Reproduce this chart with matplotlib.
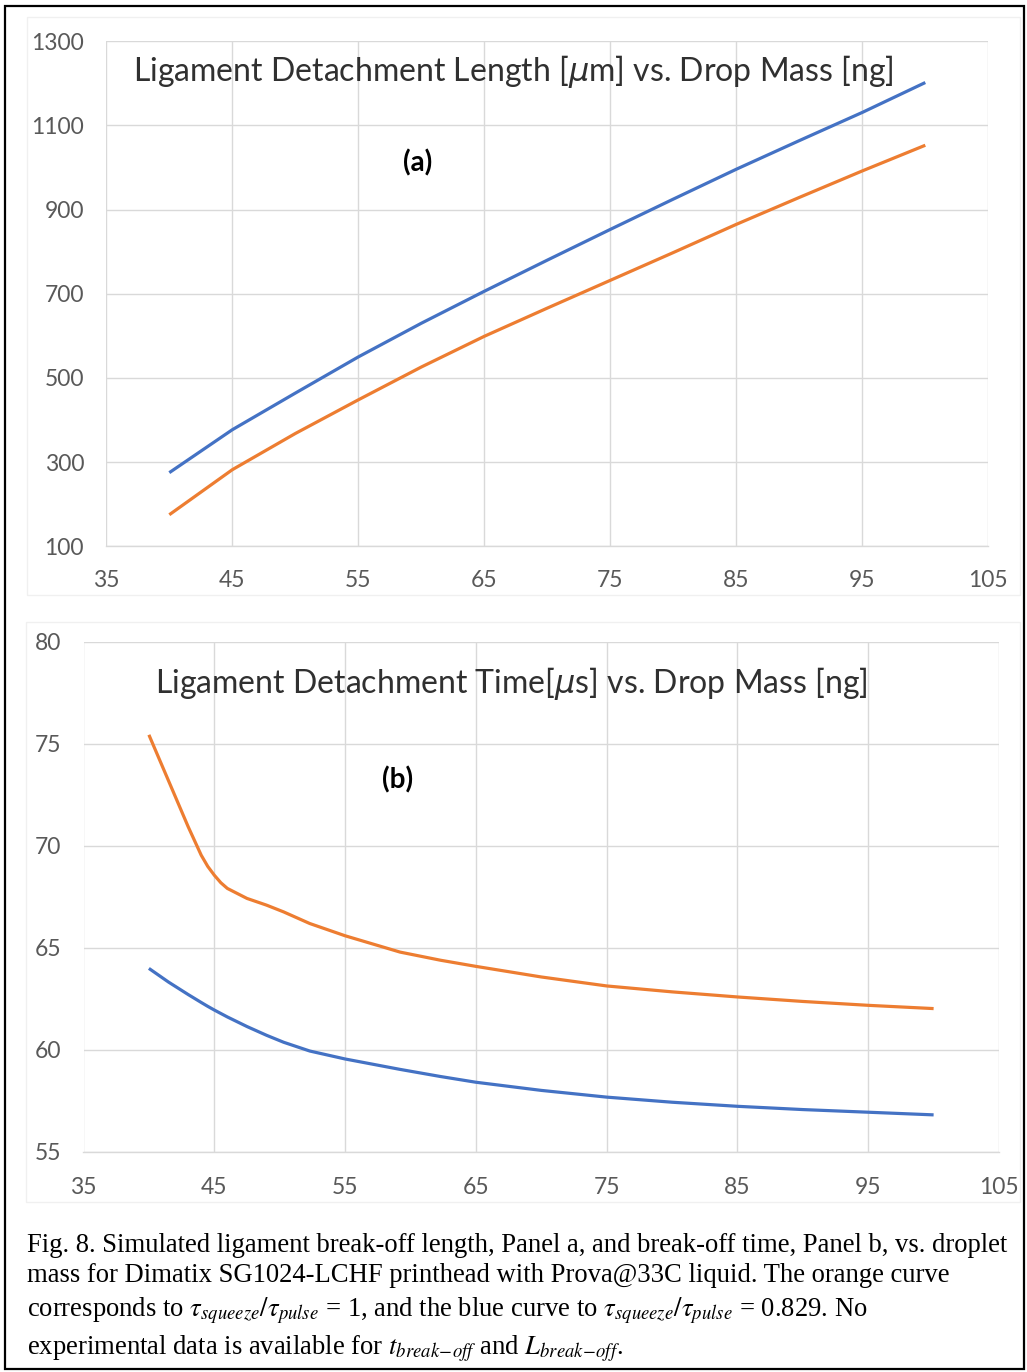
import matplotlib.pyplot as plt
from matplotlib.patches import Rectangle

# panel (a): ligament detachment length [um] vs drop mass [ng]
mass_a = [40, 45, 50, 55, 60, 65, 70, 75, 80, 85, 90, 95, 100]
length_blue = [275, 377, 464, 550, 630, 706, 780, 853, 925, 996, 1064, 1131, 1202]
length_orange = [175, 282, 368, 448, 526, 599, 666, 732, 798, 865, 929, 992, 1053]

# panel (b): ligament detachment time [us] vs drop mass [ng]
mass_b = [40, 41.5, 43, 44, 44.5, 45, 45.5, 46, 47.5, 49, 50.3, 52.3, 55, 59.2, 62.3, 65, 70, 75, 80, 85, 90, 95, 100]
time_orange = [75.45, 73.2, 70.95, 69.55, 69.0, 68.57, 68.2, 67.92, 67.43, 67.1, 66.77, 66.2, 65.6, 64.8, 64.4, 64.1,
               63.58, 63.14, 62.85, 62.6, 62.38, 62.19, 62.03]
time_blue = [64.0, 63.33, 62.72, 62.33, 62.14, 61.96, 61.79, 61.62, 61.15, 60.72, 60.38, 59.95, 59.56, 59.05, 58.7,
             58.42, 58.02, 57.69, 57.44, 57.24, 57.08, 56.95, 56.82]

x_ticks = [35, 45, 55, 65, 75, 85, 95, 105]
length_ticks = [100, 300, 500, 700, 900, 1100, 1300]
time_ticks = [55, 60, 65, 70, 75, 80]

BLUE = "#4472C4"
ORANGE = "#ED7D31"
GRID = "#d9d9d9"
LABEL = "#595959"
FONT = "Lato"

W, H = 1027, 1372
fig = plt.figure(figsize=(W / 100, H / 100), dpi=100)


def px_axes(left, top, right, bottom):
    return fig.add_axes([left / W, 1 - bottom / H, (right - left) / W, (bottom - top) / H])


def style(ax, xlim, ylim, yticks, ypad, xpad):
    ax.set_xlim(*xlim)
    ax.set_ylim(*ylim)
    ax.set_xticks(x_ticks)
    ax.set_yticks(yticks)
    ax.grid(True, color=GRID, linewidth=1.0)
    ax.set_axisbelow(True)
    for s in ["top", "right", "left"]:
        ax.spines[s].set_visible(False)
    ax.spines["bottom"].set_color(GRID)
    ax.spines["bottom"].set_linewidth(1.0)
    ax.tick_params(axis="both", length=0, labelsize=16.5, labelcolor=LABEL)
    ax.tick_params(axis="y", pad=ypad)
    ax.tick_params(axis="x", pad=xpad)
    for lab in ax.get_xticklabels() + ax.get_yticklabels():
        lab.set_family(FONT)


# faint chart-area frames
fig.patches.append(Rectangle((27 / W, 1 - 595 / H), 993 / W, 578 / H, transform=fig.transFigure,
                             fill=False, edgecolor="#f0f0f0", linewidth=1))
fig.patches.append(Rectangle((26 / W, 1 - 1202 / H), 994 / W, 580 / H, transform=fig.transFigure,
                             fill=False, edgecolor="#f0f0f0", linewidth=1))

ax1 = px_axes(106.3, 41.3, 988.3, 546.3)
ax1.plot(mass_a, length_blue, color=BLUE, linewidth=2.3, solid_capstyle="butt")
ax1.plot(mass_a, length_orange, color=ORANGE, linewidth=2.3, solid_capstyle="butt")
style(ax1, (35, 105), (100, 1300), length_ticks, 16, 17)
ax1.text(0.4617, 0.941, r"Ligament Detachment Length [$\mu$m] vs. Drop Mass [ng]", transform=ax1.transAxes,
         ha="center", va="center", fontsize=23, family=FONT, color="#303030")
ax1.text(0.3534, 0.759, "(a)", transform=ax1.transAxes, ha="center", va="center",
         fontsize=20, fontweight="bold", family=FONT, color="black")

ax2 = px_axes(83.5, 642, 999, 1152)
ax2.plot(mass_b, time_orange, color=ORANGE, linewidth=2.3, solid_capstyle="butt")
ax2.plot(mass_b, time_blue, color=BLUE, linewidth=2.3, solid_capstyle="butt")
style(ax2, (35, 105), (55, 80), time_ticks, 16, 18)
ax2.text(0.467, 0.918, r"Ligament Detachment Time[$\mu$s] vs. Drop Mass [ng]", transform=ax2.transAxes,
         ha="center", va="center", fontsize=23, family=FONT, color="#303030")
ax2.text(0.3435, 0.729, "(b)", transform=ax2.transAxes, ha="center", va="center",
         fontsize=20, fontweight="bold", family=FONT, color="black")

# caption
plt.rcParams["mathtext.fontset"] = "stix"
caption = [
    ("Fig. 8. Simulated ligament break-off length, Panel a, and break-off time, Panel b, vs. droplet", 1252),
    ("mass for Dimatix SG1024-LCHF printhead with Prova@33C liquid. The orange curve", 1282),
    (r"corresponds to $\tau_{squeeze}/\tau_{pulse}$ = 1, and the blue curve to $\tau_{squeeze}/\tau_{pulse}$ = 0.829. No", 1316),
    (r"experimental data is available for $t_{break\!-\!off}$ and $L_{break\!-\!off}$.", 1354),
]
for line, y in caption:
    fig.text(27 / W, 1 - y / H, line, ha="left", va="baseline", fontsize=19.2,
             family="Liberation Serif", color="black")

# outer border
fig.patches.append(Rectangle((5 / W, 3 / H), (W - 8) / W, (H - 9) / H, transform=fig.transFigure,
                             fill=False, edgecolor="black", linewidth=1.6))

fig.savefig("out.png", dpi=100)
